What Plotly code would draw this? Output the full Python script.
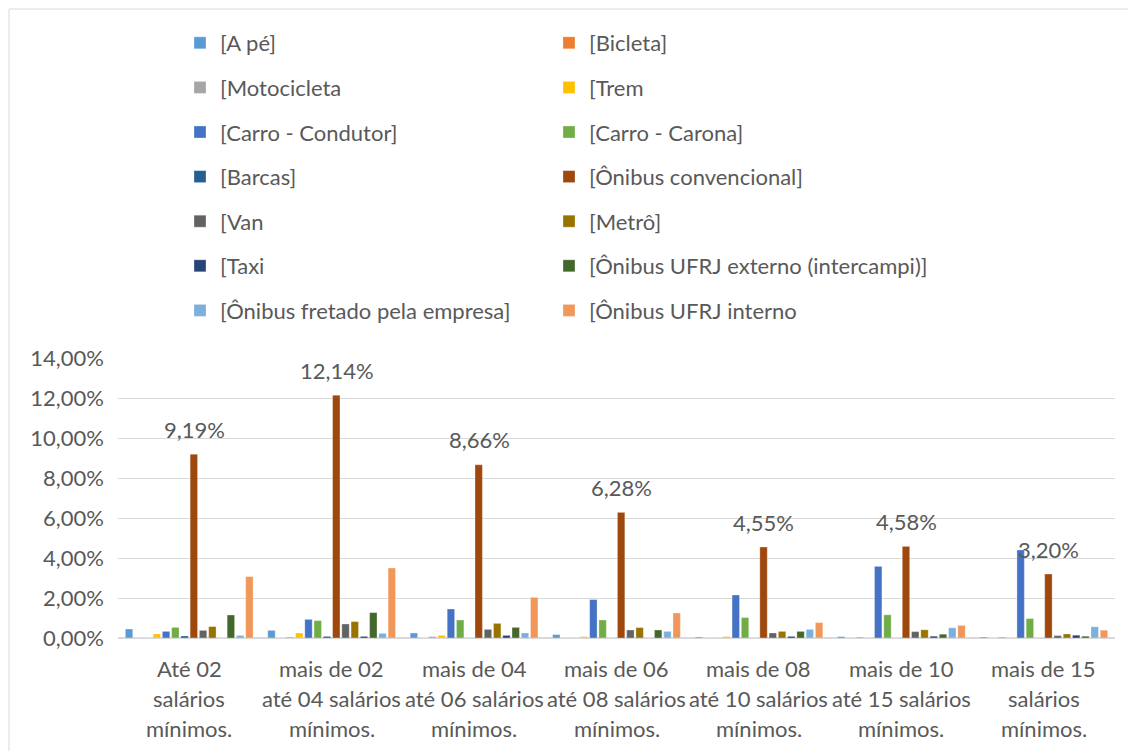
import plotly.graph_objects as go

categories = [
    "Até 02<br>salários<br>mínimos.",
    "mais de 02<br>até 04 salários<br>mínimos.",
    "mais de 04<br>até 06 salários<br>mínimos.",
    "mais de 06<br>até 08 salários<br>mínimos.",
    "mais de 08<br>até 10 salários<br>mínimos.",
    "mais de 10<br>até 15 salários<br>mínimos.",
    "mais de 15<br>salários<br>mínimos.",
]

series_names = [
    "[A pé]", "[Bicleta]", "[Motocicleta", "[Trem",
    "[Carro - Condutor]", "[Carro - Carona]", "[Barcas]", "[Ônibus convencional]",
    "[Van", "[Metrô]", "[Taxi", "[Ônibus UFRJ externo (intercampi)]",
    "[Ônibus fretado pela empresa]", "[Ônibus UFRJ interno",
]

# values in percent
a_pe        = [0.45, 0.38, 0.25, 0.17, 0.05, 0.07, 0.05]
bicleta     = [0.00, 0.00, 0.00, 0.00, 0.00, 0.00, 0.00]
motocicleta = [0.00, 0.05, 0.07, 0.00, 0.00, 0.05, 0.05]
trem        = [0.20, 0.25, 0.13, 0.07, 0.07, 0.00, 0.00]
carro_cond  = [0.33, 0.93, 1.45, 1.92, 2.15, 3.58, 4.40]
carro_car   = [0.53, 0.87, 0.90, 0.90, 1.02, 1.16, 0.97]
barcas      = [0.10, 0.08, 0.00, 0.00, 0.00, 0.00, 0.00]
onibus_conv = [9.19, 12.14, 8.66, 6.28, 4.55, 4.58, 3.20]
van         = [0.38, 0.70, 0.43, 0.40, 0.25, 0.32, 0.12]
metro       = [0.57, 0.82, 0.73, 0.52, 0.33, 0.41, 0.20]
taxi        = [0.00, 0.08, 0.13, 0.00, 0.08, 0.09, 0.14]
ufrj_ext    = [1.15, 1.27, 0.53, 0.40, 0.33, 0.19, 0.09]
fretado     = [0.13, 0.23, 0.25, 0.33, 0.43, 0.51, 0.56]
ufrj_int    = [3.07, 3.50, 2.03, 1.25, 0.77, 0.63, 0.39]

series_values = [a_pe, bicleta, motocicleta, trem, carro_cond, carro_car, barcas,
                 onibus_conv, van, metro, taxi, ufrj_ext, fretado, ufrj_int]

colors = ["#5B9BD5", "#ED7D31", "#A5A5A5", "#FFC000", "#4472C4", "#70AD47", "#255E91",
          "#9E480E", "#636363", "#997300", "#264478", "#43682B", "#7CAFDD", "#F1975A"]

labeled_series = "[Ônibus convencional]"

FONT = "Lato"
TXT = "#595959"

# page has an 8px body margin: convert window pixels to figure pixels
OFF = 8
W, H = 1136, 751
L = 118 - OFF
T = 358 - OFF
R = W - (1115 - OFF)
B = H - (638 - OFF)
pw, ph = W - L - R, H - T - B

def px2x(wx):
    return (wx - OFF - L) / pw

def py2y(wy):
    return (H - B - (wy - OFF)) / ph

fig = go.Figure()
for i, (name, vals, col) in enumerate(zip(series_names, series_values, colors)):
    fig.add_trace(go.Bar(
        name=name,
        x=categories,
        y=[v / 100 for v in vals],
        marker=dict(color=col, line=dict(color="rgba(255,255,255,0.6)", width=0.5)),
        legend="legend" if i % 2 == 0 else "legend2",
        legendgroup=name,
        hoverinfo="skip",
    ))

# data labels for the labelled series
idx = series_names.index(labeled_series)
for cat, v in zip(categories, series_values[idx]):
    fig.add_annotation(
        x=cat, y=v / 100, xref="x", yref="y",
        text=f"{v:.2f}%".replace(".", ","),
        showarrow=False, xshift=5, yshift=25, yanchor="middle",
        font=dict(family=FONT, size=22, color=TXT),
    )

# category labels, one annotation per line for Excel-like line spacing
for cat in categories:
    for k, line in enumerate(cat.split("<br>")):
        fig.add_annotation(
            x=cat, y=0, xref="x", yref="paper",
            text=line, showarrow=False, yanchor="middle",
            yshift=-(30 + 30 * k),
            font=dict(family=FONT, size=22, color=TXT),
        )

fig.add_shape(type="rect", xref="paper", yref="paper",
              x0=px2x(9), x1=px2x(1145), y0=py2y(760), y1=py2y(9),
              line=dict(color="#D9D9D9", width=1), fillcolor="rgba(0,0,0,0)", layer="below")

legend_common = dict(
    orientation="v", bgcolor="rgba(0,0,0,0)",
    font=dict(family=FONT, size=22, color=TXT),
    tracegroupgap=13, yanchor="top", xanchor="left",
    itemclick=False, itemdoubleclick=False,
)

fig.update_layout(
    width=W, height=H,
    margin=dict(l=L, r=R, t=T, b=B),
    paper_bgcolor="white", plot_bgcolor="white",
    separators=",.",
    barmode="group", bargap=0.09, bargroupgap=0.2,
    font=dict(family=FONT, color=TXT),
    legend=dict(x=px2x(180), y=py2y(22), **legend_common),
    legend2=dict(x=px2x(549), y=py2y(22), **legend_common),
    xaxis=dict(showticklabels=False, showgrid=False, showline=False, ticks=""),
    yaxis=dict(
        range=[0, 0.14], dtick=0.02, tickformat=".2%",
        tickfont=dict(family=FONT, size=22, color=TXT),
        gridcolor="#D9D9D9", gridwidth=1, zeroline=True, zerolinecolor="#D9D9D9",
        showline=False, ticks="", ticklabelstandoff=13,
    ),
)

fig.write_html("out.html")
